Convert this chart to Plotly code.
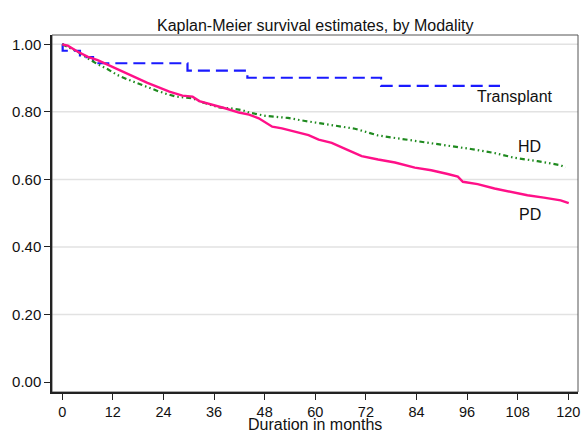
import plotly.graph_objects as go

# ---- data ----
pd_months = [0, 1.3, 3.7, 6.1, 8.4, 10.8, 13.1, 15.5, 17.9, 20.2, 22.6, 25.4, 28.5, 30.9,
             32.5, 35.6, 38.8, 41.9, 44.3, 46.6, 48.2, 49.8, 52.1, 56.1, 58.4, 60.8, 63.9,
             67.9, 71.0, 74.9, 78.9, 83.6, 87.5, 91.4, 93.8, 95.0, 98.5, 102.5, 106.4,
             110.3, 114.2, 118.2, 120.1]
pd_surv = [1.0, .996, .978, .963, .953, .939, .926, .914, .899, .886, .874, .860, .848, .845,
           .832, .822, .810, .798, .792, .781, .769, .756, .751, .737, .731, .718, .708,
           .686, .669, .659, .650, .635, .627, .616, .608, .593, .586, .573, .563,
           .553, .546, .538, .530]

hd_months = [0, 1.3, 3.7, 6.1, 8.4, 10.8, 13.1, 15.5, 17.9, 20.2, 22.6, 24.5, 27.0, 30.9,
             33.3, 37.2, 40.3, 42.7, 44.3, 48.2, 53.5, 57.6, 63.9, 69.4, 74.9, 80.4, 85.9,
             91.4, 96.9, 102.5, 107.2, 112.7, 118.2, 119.3]
hd_surv = [1.0, .993, .978, .958, .941, .926, .909, .896, .884, .874, .862, .854, .845, .840,
           .828, .813, .810, .805, .798, .788, .782, .773, .760, .750, .730, .720, .712,
           .700, .690, .678, .664, .654, .642, .635]

tx_months = [0, 0.1, 4.2, 7.3, 29.7, 43.9, 75.6, 103.8]
tx_surv = [1.0, 0.981, 0.962, 0.944, 0.922, 0.901, 0.877, 0.877]

x_ticks = [0, 12, 24, 36, 48, 60, 72, 84, 96, 108, 120]
y_ticks = [0.0, 0.2, 0.4, 0.6, 0.8, 1.0]
grid_vals = [0.2, 0.4, 0.6, 0.8, 1.0]

labels = ["Transplant", "HD", "PD"]
label_x = [107.4, 110.8, 110.8]
label_y = [0.845, 0.6965, 0.496]

title = "Kaplan-Meier survival estimates, by Modality"
xtitle = "Duration in months"

FONT = "Liberation Sans, Arial, sans-serif"

fig = go.Figure()

fig.add_trace(go.Scatter(x=tx_months, y=tx_surv, mode="lines", line_shape="hv",
                         line=dict(color="#1a1aff", width=2.2, dash="12px,6px"),
                         showlegend=False, hoverinfo="skip"))
fig.add_trace(go.Scatter(x=hd_months, y=hd_surv, mode="lines",
                         line=dict(color="#1f8a1f", width=2.2,
                                   dash="5px,3px,1.5px,3px,1.5px,3px"),
                         showlegend=False, hoverinfo="skip"))
fig.add_trace(go.Scatter(x=pd_months, y=pd_surv, mode="lines",
                         line=dict(color="#ff1088", width=2.4),
                         showlegend=False, hoverinfo="skip"))

shapes = []
for g in grid_vals:
    shapes.append(dict(type="line", xref="paper", x0=0, x1=1, yref="y", y0=g, y1=g,
                       line=dict(color="#e2e2e2", width=1.5), layer="below"))
shapes.append(dict(type="rect", xref="paper", yref="paper", x0=0, x1=1, y0=0, y1=1,
                   line=dict(color="#555555", width=1), layer="below"))
fig.update_layout(shapes=shapes)

for t, xx, yy in zip(labels, label_x, label_y):
    fig.add_annotation(x=xx, y=yy, text=t, showarrow=False, xanchor="center",
                       yanchor="middle", font=dict(family=FONT, size=16, color="#111"))

fig.add_annotation(xref="paper", yref="paper", x=0.5, y=1.028, text=title,
                   showarrow=False, xanchor="center", yanchor="middle",
                   font=dict(family=FONT, size=16, color="#111"))
fig.add_annotation(xref="paper", yref="paper", x=0.5, y=-0.092, text=xtitle,
                   showarrow=False, xanchor="center", yanchor="middle",
                   font=dict(family=FONT, size=16, color="#111"))

fig.update_xaxes(range=[-2.43, 122.3], tickvals=x_ticks, ticktext=[str(v) for v in x_ticks],
                 showgrid=False, zeroline=False, showline=True, linecolor="#222",
                 linewidth=1.5, ticks="outside", ticklen=6, tickwidth=1.3, tickcolor="#222",
                 tickfont=dict(family=FONT, size=14.5, color="#111"))
fig.update_yaxes(range=[-0.0296, 1.0276], tickvals=y_ticks,
                 ticktext=[f"{v:.2f}" for v in y_ticks],
                 showgrid=False, zeroline=False, showline=True, linecolor="#222",
                 linewidth=1.5, ticks="outside", ticklen=6, tickwidth=1.3, tickcolor="#222",
                 tickfont=dict(family=FONT, size=15, color="#111"))

fig.update_layout(width=587, height=432, autosize=False,
                  margin=dict(l=52, r=6.3, t=35, b=40.3),
                  paper_bgcolor="white", plot_bgcolor="white")

fig.write_html("out.html")
